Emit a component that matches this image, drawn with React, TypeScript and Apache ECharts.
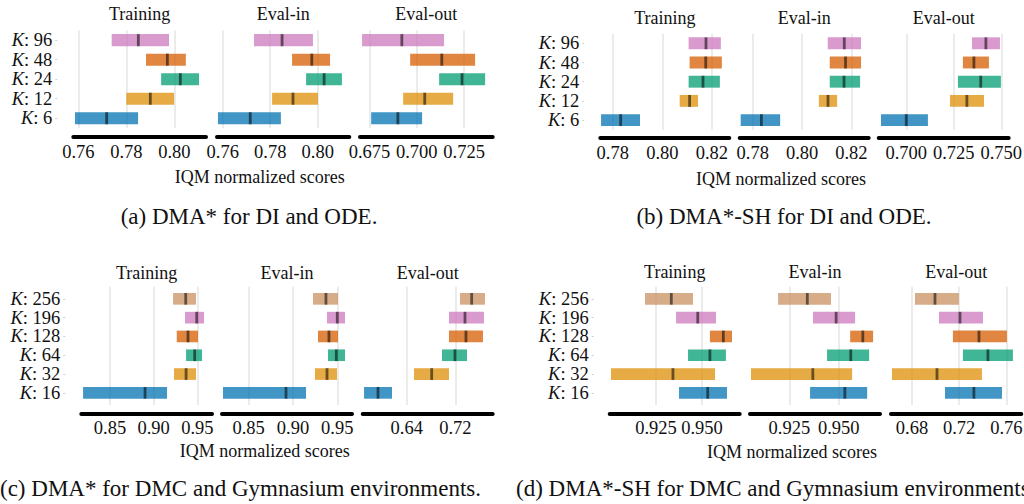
import React, { useEffect, useRef } from 'react';
import * as echarts from 'echarts';

// IQM normalized scores: [low, high, median] per K, listed bottom row first.
const kDiOde = ['6', '12', '24', '48', '96'];
const kDmcGym = ['16', '32', '64', '128', '196', '256'];
const splitNames = ['Training', 'Eval-in', 'Eval-out'];

// (a) DMA* for DI and ODE
const dmaDiOdeTraining = [
  [0.7586, 0.7849, 0.7718],
  [0.78, 0.7999, 0.79],
  [0.7945, 0.8103, 0.8025],
  [0.7882, 0.8048, 0.7971],
  [0.7739, 0.7978, 0.785],
];
const dmaDiOdeEvalIn = [
  [0.758, 0.7845, 0.7716],
  [0.7808, 0.8001, 0.7896],
  [0.7951, 0.8102, 0.8027],
  [0.7892, 0.8052, 0.7975],
  [0.7732, 0.798, 0.785],
];
const dmaDiOdeEvalOut = [
  [0.6759, 0.7028, 0.69],
  [0.6928, 0.7192, 0.7042],
  [0.7118, 0.7361, 0.7239],
  [0.6965, 0.7308, 0.7132],
  [0.6711, 0.7144, 0.6921],
];

// (b) DMA*-SH for DI and ODE
const shDiOdeTraining = [
  [0.7753, 0.791, 0.7832],
  [0.807, 0.8144, 0.811],
  [0.8106, 0.8232, 0.8164],
  [0.811, 0.824, 0.8175],
  [0.8106, 0.8236, 0.8176],
];
const shDiOdeEvalIn = [
  [0.7751, 0.7911, 0.7835],
  [0.8068, 0.8142, 0.8105],
  [0.8112, 0.8235, 0.817],
  [0.8112, 0.8239, 0.8176],
  [0.8104, 0.8239, 0.8171],
];
const shDiOdeEvalOut = [
  [0.6867, 0.7114, 0.7],
  [0.723, 0.7409, 0.7319],
  [0.7272, 0.7498, 0.7392],
  [0.7298, 0.7435, 0.7356],
  [0.7346, 0.7493, 0.7419],
];

// (c) DMA* for DMC and Gymnasium
const dmaDmcTraining = [
  [0.8191, 0.9153, 0.8901],
  [0.9233, 0.9485, 0.9371],
  [0.9371, 0.9554, 0.947],
  [0.9264, 0.9508, 0.9393],
  [0.9359, 0.9577, 0.9493],
  [0.9222, 0.9485, 0.9367],
];
const dmaDmcEvalIn = [
  [0.821, 0.9147, 0.8921],
  [0.9248, 0.9497, 0.9384],
  [0.9395, 0.9587, 0.9489],
  [0.9282, 0.9508, 0.9406],
  [0.9384, 0.9587, 0.95],
  [0.9226, 0.9508, 0.9372],
];
const dmaDmcEvalOut = [
  [0.5698, 0.6158, 0.5928],
  [0.652, 0.7096, 0.6811],
  [0.6981, 0.7392, 0.7194],
  [0.7096, 0.7655, 0.7375],
  [0.7096, 0.7671, 0.7359],
  [0.7277, 0.7688, 0.7469],
];

// (d) DMA*-SH for DMC and Gymnasium
const shDmcTraining = [
  [0.9375, 0.9636, 0.9531],
  [0.9005, 0.9571, 0.9342],
  [0.9424, 0.963, 0.9543],
  [0.9543, 0.9663, 0.9616],
  [0.9359, 0.9576, 0.9477],
  [0.919, 0.9451, 0.9333],
];
const shDmcEvalIn = [
  [0.9355, 0.9644, 0.9531],
  [0.9056, 0.9568, 0.9369],
  [0.9441, 0.9654, 0.9561],
  [0.9558, 0.9674, 0.9622],
  [0.937, 0.9583, 0.9487],
  [0.9193, 0.9461, 0.9341],
];
const shDmcEvalOut = [
  [0.708, 0.7563, 0.7325],
  [0.663, 0.7393, 0.7012],
  [0.7232, 0.7656, 0.7444],
  [0.7147, 0.7605, 0.7368],
  [0.7029, 0.7402, 0.7207],
  [0.6825, 0.7198, 0.6995],
];

// Tick values per panel
const ticksDiOde = [0.76, 0.78, 0.8];
const ticksDiOdeOut = [0.675, 0.7, 0.725];
const ticksShDiOde = [0.78, 0.8, 0.82];
const ticksShDiOdeOut = [0.7, 0.725, 0.75];
const ticksDmc = [0.85, 0.9, 0.95];
const ticksDmcOut = [0.64, 0.72];
const ticksShDmc = [0.925, 0.95];
const ticksShDmcOut = [0.68, 0.72, 0.76];

const palette = ['#0173b2', '#de8f05', '#029e73', '#d55e00', '#cc78bc', '#ca9161'];

const FONT = '"Liberation Serif", "Times New Roman", "DejaVu Serif", serif';
const INK = '#111111';
const X_LABEL = 'IQM normalized scores';

type Panel = {
  rows: number[][];
  xMin: number;
  xMax: number;
  ticks: number[];
  digits: number;
  left: number;
  width: number;
};

type Group = {
  kLabels: string[];
  panels: Panel[];
  top: number;
  height: number;
  rowPad: number;
  axisGap: number;
  labelMargin: number;
  titleY: number;
  xLabelPos: [number, number];
  caption: string;
  captionPos: [number, number];
  captionAlign: string;
};

const groups: Group[] = [
  {
    kLabels: kDiOde,
    panels: [
      { rows: dmaDiOdeTraining, xMin: 0.7579, xMax: 0.8132, ticks: ticksDiOde, digits: 2, left: 73.3, width: 132.7 },
      { rows: dmaDiOdeEvalIn, xMin: 0.7576, xMax: 0.8133, ticks: ticksDiOde, digits: 2, left: 217, width: 132.3 },
      { rows: dmaDiOdeEvalOut, xMin: 0.67, xMax: 0.7401, ticks: ticksDiOdeOut, digits: 3, left: 360, width: 132.7 },
    ],
    top: 30.4,
    height: 97.6,
    rowPad: 0,
    axisGap: 8.5,
    labelMargin: 6,
    titleY: 14,
    xLabelPos: [259.7, 176.5],
    caption: '(a) DMA* for DI and ODE.',
    captionPos: [249, 216.5],
    captionAlign: 'center',
  },
  {
    kLabels: kDiOde,
    panels: [
      { rows: shDiOdeTraining, xMin: 0.775, xMax: 0.827, ticks: ticksShDiOde, digits: 2, left: 600.3, width: 129 },
      { rows: shDiOdeEvalIn, xMin: 0.7747, xMax: 0.827, ticks: ticksShDiOde, digits: 2, left: 739.7, width: 129 },
      { rows: shDiOdeEvalOut, xMin: 0.6855, xMax: 0.7539, ticks: ticksShDiOdeOut, digits: 3, left: 878.7, width: 130 },
    ],
    top: 33.7,
    height: 96,
    rowPad: 0,
    axisGap: 8.1,
    labelMargin: 6,
    titleY: 17.8,
    xLabelPos: [781, 178.5],
    caption: '(b) DMA*-SH for DI and ODE.',
    captionPos: [784, 216.5],
    captionAlign: 'center',
  },
  {
    kLabels: kDmcGym,
    panels: [
      { rows: dmaDmcTraining, xMin: 0.8171, xMax: 0.9668, ticks: ticksDmc, digits: 2, left: 81.3, width: 130.7 },
      { rows: dmaDmcEvalIn, xMin: 0.8199, xMax: 0.9666, ticks: ticksDmc, digits: 2, left: 222, width: 130 },
      { rows: dmaDmcEvalOut, xMin: 0.5676, xMax: 0.7815, ticks: ticksDmcOut, digits: 2, left: 362.7, width: 130 },
    ],
    top: 286.7,
    height: 118.3,
    rowPad: 0.146,
    axisGap: 8.7,
    labelMargin: 5,
    titleY: 272.5,
    xLabelPos: [264.7, 451],
    caption: '(c) DMA* for DMC and Gymnasium environments.',
    captionPos: [0, 488],
    captionAlign: 'left',
  },
  {
    kLabels: kDmcGym,
    panels: [
      { rows: shDmcTraining, xMin: 0.8998, xMax: 0.9705, ticks: ticksShDmc, digits: 3, left: 609.7, width: 130 },
      { rows: shDmcEvalIn, xMin: 0.9051, xMax: 0.9709, ticks: ticksShDmc, digits: 3, left: 750, width: 130 },
      { rows: shDmcEvalOut, xMin: 0.6622, xMax: 0.7727, ticks: ticksShDmcOut, digits: 2, left: 891, width: 130.3 },
    ],
    top: 286.7,
    height: 118.3,
    rowPad: 0.146,
    axisGap: 8.7,
    labelMargin: 5,
    titleY: 272,
    xLabelPos: [792, 451.5],
    caption: '(d) DMA*-SH for DMC and Gymnasium environments.',
    captionPos: [516, 488],
    captionAlign: 'left',
  },
];

const BAR_FRACTION = 0.62;
const MEDIAN_WIDTH = 2.8;

function buildOption() {
  const grid: any[] = [];
  const xAxis: any[] = [];
  const yAxis: any[] = [];
  const series: any[] = [];
  const graphic: any[] = [];

  const textEl = (text: string, x: number, y: number, size: number, align = 'center') => ({
    type: 'text',
    x,
    y,
    silent: true,
    style: {
      text,
      fontFamily: FONT,
      fontSize: size,
      fill: INK,
      align,
      textAlign: align,
      verticalAlign: 'middle',
      textVerticalAlign: 'middle',
    },
  });

  groups.forEach((g) => {
    const n = g.kLabels.length;
    const rowIdx = g.kLabels.map((_, i) => i);
    g.panels.forEach((p, pi) => {
      const idx = grid.length;
      grid.push({
        left: p.left,
        top: g.top,
        width: p.width,
        height: g.height,
        containLabel: false,
        outerBoundsMode: 'none',
      });
      xAxis.push({
        gridIndex: idx,
        type: 'value',
        min: p.xMin,
        max: p.xMax,
        offset: g.axisGap,
        axisLine: { show: true, onZero: false, lineStyle: { color: '#000000', width: 4 } },
        axisTick: { show: false, customValues: p.ticks },
        axisLabel: {
          customValues: p.ticks,
          formatter: (v: number) => v.toFixed(p.digits),
          fontFamily: FONT,
          fontSize: 18.5,
          color: INK,
          margin: g.labelMargin,
          hideOverlap: false,
        },
        splitLine: { show: true, lineStyle: { color: '#e4e4e4', width: 1.5 } },
      });
      yAxis.push({
        gridIndex: idx,
        type: 'value',
        min: -0.5 - g.rowPad,
        max: n - 0.5 + g.rowPad,
        show: pi === 0,
        offset: 16,
        axisLine: { show: false, onZero: false },
        axisTick: { show: true, length: 2, customValues: rowIdx, lineStyle: { color: '#cfcfcf', width: 1 } },
        axisLabel: {
          customValues: rowIdx,
          formatter: (v: number) => `{k|K}: ${g.kLabels[Math.round(v)]}`,
          fontFamily: FONT,
          fontSize: 18.5,
          lineHeight: 17,
          color: INK,
          margin: 5,
          rich: { k: { fontFamily: FONT, fontSize: 18.5, lineHeight: 17, fontStyle: 'italic', color: INK } },
        },
        splitLine: { show: false },
      });
      series.push({
        type: 'custom',
        xAxisIndex: idx,
        yAxisIndex: idx,
        clip: false,
        encode: { x: [0, 1, 2], y: 3 },
        data: p.rows.map((r, i) => [r[0], r[1], r[2], i]),
        renderItem: (params: any, api: any) => {
          const row = api.value(3);
          const lo = api.coord([api.value(0), row]);
          const hi = api.coord([api.value(1), row]);
          const med = api.coord([api.value(2), row]);
          const h = api.size([0, 1])[1] * BAR_FRACTION;
          return {
            type: 'group',
            children: [
              {
                type: 'rect',
                shape: { x: lo[0], y: lo[1] - h / 2, width: hi[0] - lo[0], height: h },
                style: { fill: palette[row], opacity: 0.75 },
              },
              {
                type: 'rect',
                shape: { x: med[0] - MEDIAN_WIDTH / 2, y: med[1] - h / 2, width: MEDIAN_WIDTH, height: h },
                style: { fill: 'rgba(0,0,0,0.55)' },
              },
            ],
          };
        },
      });
      graphic.push(textEl(splitNames[pi], p.left + p.width / 2, g.titleY, 18));
    });
    graphic.push(textEl(X_LABEL, g.xLabelPos[0], g.xLabelPos[1], 18));
    graphic.push(textEl(g.caption, g.captionPos[0], g.captionPos[1], 23, g.captionAlign));
  });

  return {
    animation: false,
    backgroundColor: '#ffffff',
    grid,
    xAxis,
    yAxis,
    series,
    graphic,
  };
}

export default function App() {
  const ref = useRef<HTMLDivElement>(null);
  useEffect(() => {
    document.body.style.margin = '0';
    if (!ref.current) return;
    const chart = echarts.init(ref.current, undefined, { renderer: 'svg' });
    chart.setOption(buildOption() as any);
    return () => chart.dispose();
  }, []);
  return <div ref={ref} style={{ width: 1024, height: 504 }} />;
}
